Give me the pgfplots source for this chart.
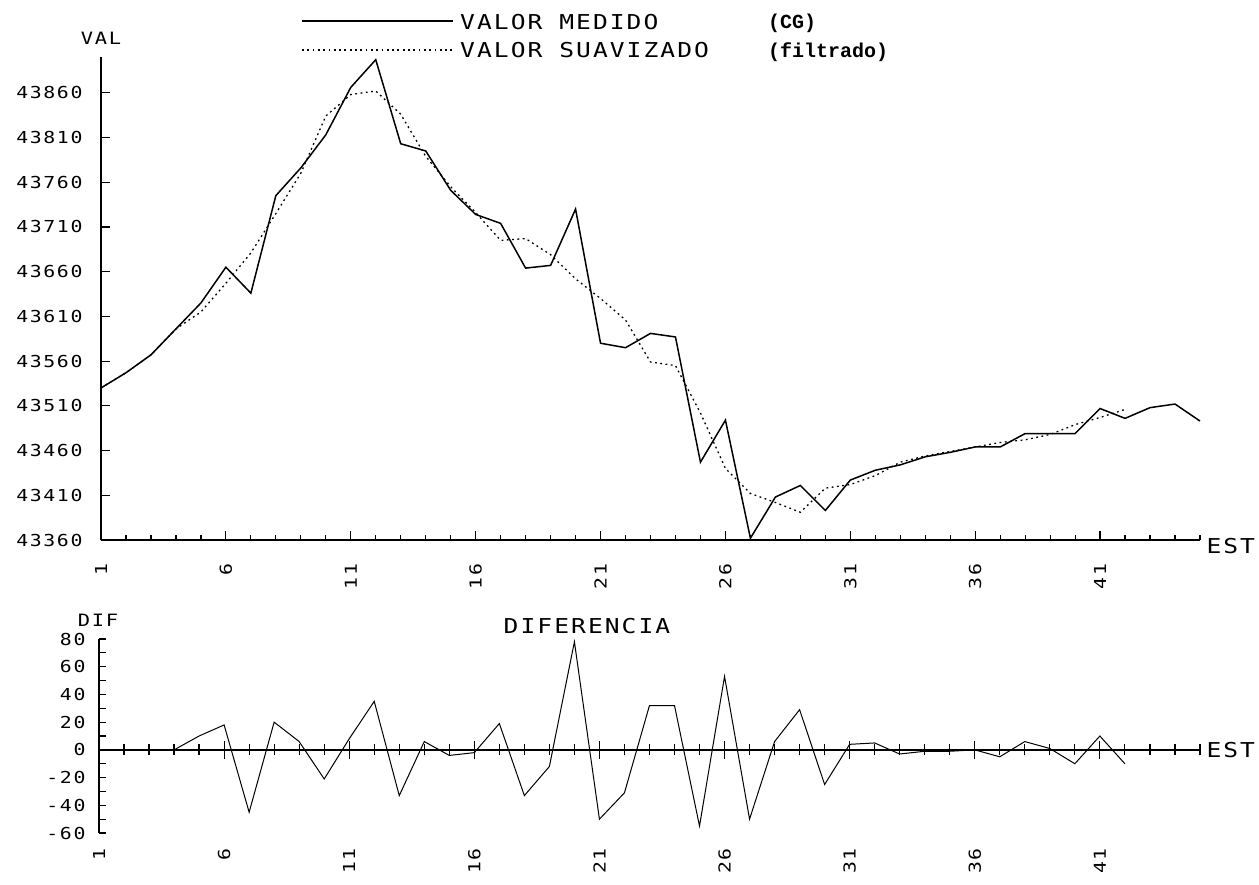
\documentclass[border=0pt]{standalone}
\usepackage{pgfplots}
\pgfplotsset{compat=1.18}
\usepackage{pgfplotstable}
\usepackage{fontspec}
\newfontfamily\mf[FakeStretch=1.2, LetterSpace=10]{DejaVu Sans Mono}
\newfontfamily\cf{Liberation Mono}
\newcommand{\tl}{\mf\fontsize{16.5}{16.5}\selectfont}
\newcommand{\ttit}{\mf\fontsize{20.5}{20.5}\selectfont}

\pgfplotstableread{
x m
1 43530
2 43547
3 43567
4 43596
5 43625
6 43665
7 43636
8 43745
9 43776
10 43813
11 43866
12 43897
13 43803
14 43795
15 43751
16 43724
17 43714
18 43664
19 43667
20 43730
21 43580
22 43575
23 43591
24 43587
25 43447
26 43494
27 43362
28 43408
29 43421
30 43393
31 43427
32 43438
33 43444
34 43453
35 43458
36 43464
37 43464
38 43479
39 43479
40 43479
41 43507
42 43496
43 43508
44 43512
45 43493
}\medido

\pgfplotstableread{
x s
1 43530
2 43547
3 43567
4 43596
5 43615
6 43647
7 43681
8 43725
9 43770
10 43834
11 43858
12 43862
13 43836
14 43789
15 43755
16 43726
17 43695
18 43697
19 43679
20 43652
21 43630
22 43606
23 43559
24 43555
25 43502
26 43440
27 43412
28 43402
29 43391
30 43418
31 43422
32 43432
33 43447
34 43454
35 43459
36 43464
37 43469
38 43472
39 43478
40 43489
41 43497
42 43506
}\suav

\pgfplotstableread{
x d
1 0
2 0
3 0
4 0
5 10
6 18
7 -45
8 20
9 6
10 -21
11 8
12 35
13 -33
14 6
15 -4
16 -2
17 19
18 -33
19 -12
20 78
21 -50
22 -31
23 32
24 32
25 -55
26 53
27 -50
28 6
29 29
30 -25
31 4
32 5
33 -3
34 -1
35 -1
36 0
37 -5
38 6
39 1
40 -10
41 10
42 -10
}\dif

\begin{document}
\begin{tikzpicture}
\useasboundingbox (0pt,0pt) rectangle (1259pt,-884pt);

% ---------- top chart ----------
\begin{axis}[
  at={(101pt,-540pt)}, anchor=south west,
  scale only axis, width=1099pt, height=483pt,
  xmin=1, xmax=45, ymin=43360, ymax=43900,
  scaled y ticks=false, scaled x ticks=false,
  axis x line=bottom, axis y line=left,
  axis line style={line width=1.8pt,-},
  tick align=inside,
  major tick length=9pt, minor tick length=5pt,
  every tick/.append style={line width=1.2pt,black},
  xtick={1,6,11,16,21,26,31,36,41},
  xticklabels={1,6,11,16,21,26,31,36,41},
  minor xtick={1,...,45},
  ytick={43360,43410,43460,43510,43560,43610,43660,43710,43760,43810,43860},
  yticklabels={43360,43410,43460,43510,43560,43610,43660,43710,43760,43810,43860},
  xticklabel shift=20pt,
  xticklabel style={font=\tl, rotate=90, anchor=east},
  yticklabel style={font=\tl, anchor=east, xshift=-15pt},
  clip=false,
]
\addplot[black, line width=1.5pt] table[x=x,y=m] {\medido};
\addplot[black, line width=1.3pt, dash pattern=on 1.8pt off 3.5pt] table[x=x,y=s] {\suav};
\end{axis}

% ---------- bottom chart: data + x axis ----------
\begin{axis}[
  at={(99pt,-833pt)}, anchor=south west,
  scale only axis, width=1101pt, height=194pt,
  xmin=1, xmax=45, ymin=-60, ymax=80,
  axis x line=middle, axis y line=none,
  axis line style={line width=1.8pt,-},
  hide obscured x ticks=false,
  tick align=center,
  major tick length=18pt, minor tick length=11pt,
  every tick/.append style={line width=1.2pt,black},
  ytick=\empty,
  xtick={1,6,11,16,21,26,31,36,41},
  xticklabels={1,6,11,16,21,26,31,36,41},
  minor xtick={1,...,45},
  xticklabel shift=86pt,
  xticklabel style={font=\tl, rotate=90, anchor=east},
  clip=false,
]
\addplot[black, line width=1.0pt] table[x=x,y=d] {\dif};
\end{axis}

% ---------- bottom chart: y axis ----------
\begin{axis}[
  at={(99pt,-833pt)}, anchor=south west,
  scale only axis, width=1101pt, height=194pt,
  xmin=1, xmax=45, ymin=-60, ymax=80,
  axis x line=none, axis y line=left,
  axis line style={line width=1.8pt,-},
  tick align=inside,
  major tick length=7pt, minor tick length=7pt,
  every tick/.append style={line width=1.2pt,black},
  xtick=\empty,
  ytick={-60,-40,-20,0,20,40,60,80},
  yticklabels={-60,-40,-20,0,20,40,60,80},
  minor ytick={-50,-30,-10,10,30,50,70},
  yticklabel style={font=\tl, anchor=east, xshift=-10pt},
]
\end{axis}

% ---------- texts ----------
\node[font=\mf\fontsize{17}{17}\selectfont] at (101pt,-38pt) {VAL};
\node[font=\mf\fontsize{17}{17}\selectfont] at (98pt,-620pt) {DIF};
\node[font=\ttit] at (587pt,-626pt) {DIFERENCIA};
\node[font=\ttit, anchor=west] at (1203pt,-546pt) {EST};
\node[font=\ttit, anchor=west] at (1203pt,-750pt) {EST};

% legend
\draw[line width=1.5pt] (302pt,-21pt) -- (453pt,-21pt);
\draw[line width=1.3pt, dash pattern=on 1.8pt off 3.5pt] (302pt,-50pt) -- (453pt,-50pt);
\node[font=\ttit, anchor=west, inner sep=0pt] at (460pt,-22pt) {VALOR MEDIDO};
\node[font=\ttit, anchor=west, inner sep=0pt] at (460pt,-50pt) {VALOR SUAVIZADO};
\node[font=\cf\bfseries\fontsize{20}{20}\selectfont, anchor=west, inner sep=0pt] at (768pt,-23pt) {(CG)};
\node[font=\cf\bfseries\fontsize{20}{20}\selectfont, anchor=west, inner sep=0pt] at (768pt,-52pt) {(filtrado)};
\end{tikzpicture}
\end{document}
